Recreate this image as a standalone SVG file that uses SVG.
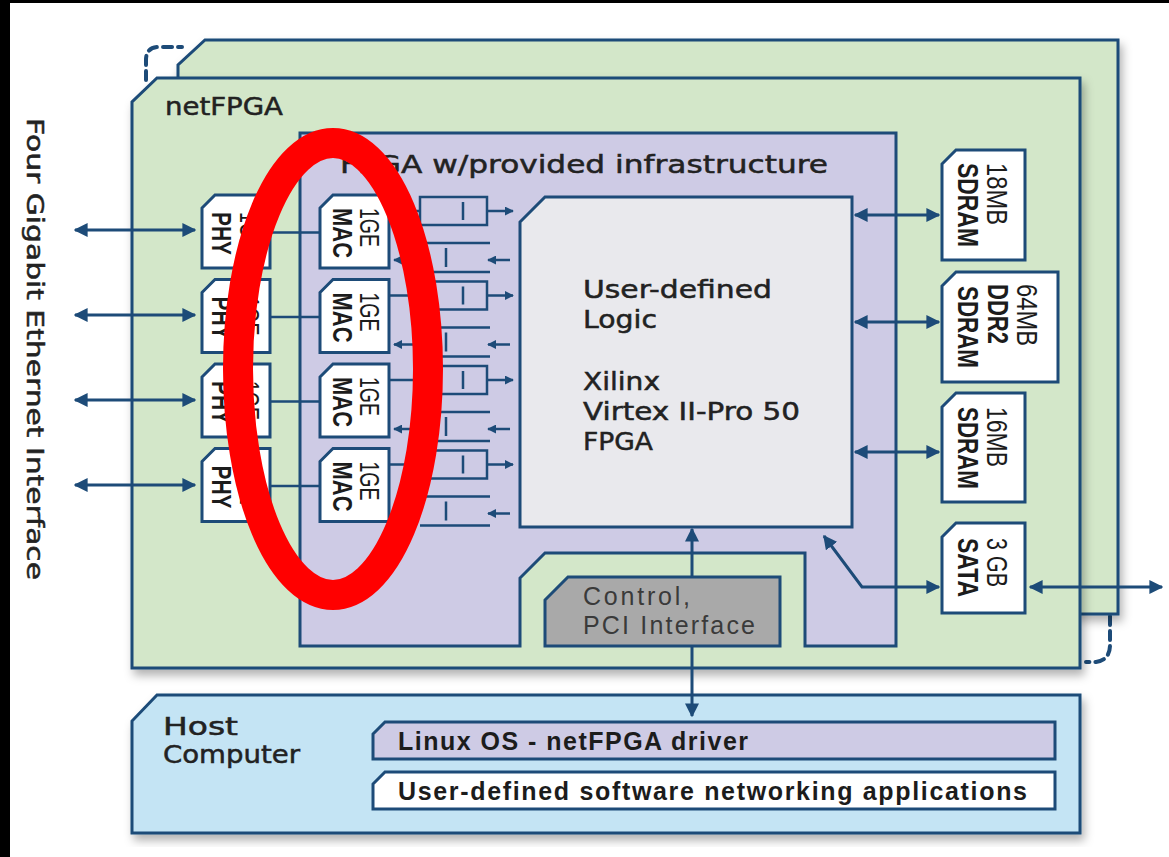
<svg xmlns="http://www.w3.org/2000/svg" width="1169" height="857" viewBox="0 0 1169 857">
<style>
.bd{stroke:#1d4b78;stroke-width:3;stroke-linejoin:miter}
.green{fill:#d3e7c9}
.purple{fill:#cecbe5}
.white{fill:#ffffff}
.logic{fill:#e9e9ed}
.grey{fill:#a9a9a9}
.blue{fill:#c4e4f4}
.ln{stroke:#1d4b78;stroke-width:3;fill:none}
.thin{stroke:#1d4b78;stroke-width:2.5;fill:none}
.eu{font-family:"DejaVu Sans",sans-serif;fill:#222;stroke:#222;stroke-width:0.5}
.ar{font-family:"Liberation Sans",Arial,sans-serif;fill:#1c1c1c}
.b{font-weight:bold}
.dash{stroke:#1d4b78;stroke-width:4;fill:none;stroke-dasharray:9 6;stroke-linecap:round}
</style>
<defs>
<marker id="ah" viewBox="0 0 10 10" refX="9" refY="5" markerWidth="14" markerHeight="14" markerUnits="userSpaceOnUse" orient="auto-start-reverse"><path d="M0,0 L10,5 L0,10 z" fill="#1d4b78"/></marker>
<marker id="as" viewBox="0 0 10 10" refX="9" refY="5" markerWidth="9" markerHeight="9" markerUnits="userSpaceOnUse" orient="auto-start-reverse"><path d="M0,0 L10,5 L0,10 z" fill="#1d4b78"/></marker>
<filter id="sh" x="-5%" y="-5%" width="112%" height="115%"><feDropShadow dx="3" dy="6" stdDeviation="5" flood-color="#000" flood-opacity="0.3"/></filter>
</defs>
<rect x="0" y="0" width="1169" height="857" fill="#ffffff"/>
<rect x="0" y="0" width="10" height="857" fill="#000"/>
<rect x="0" y="0" width="1169" height="3" fill="#000"/>

<g id="ethernet-label"><text class="eu" font-size="23" transform="translate(27,118) rotate(90)" textLength="462" lengthAdjust="spacingAndGlyphs">Four Gigabit Ethernet Interface</text></g>

<g id="stack-dashes">
<path class="dash" d="M146,80 V60 Q146,47 159,47 H182"/>
<path class="dash" d="M1110,616 V645 Q1110,660 1096,662 H1086"/>
</g>

<g id="back-board"><path class="bd green" filter="url(#sh)" d="M178,78 V65 L205,40 H1118 V614 H1080 Z"/></g>

<g id="netfpga">
<path class="bd green" filter="url(#sh)" d="M132,668 V102 L157,78 H1080 V668 Z"/>
<text class="eu" x="165" y="115" font-size="24" textLength="118" lengthAdjust="spacingAndGlyphs">netFPGA</text>
</g>

<g id="fpga-infrastructure">
<path class="bd purple" d="M300,133 H896 V646 H805 V553 H545 L520,578 V646 H300 Z"/>
<text class="eu" x="340" y="173" font-size="25" textLength="488" lengthAdjust="spacingAndGlyphs">FPGA w/provided infrastructure</text>
</g>

<g id="user-logic">
<path class="bd logic" d="M520,222 L545,197 H852 V527 H520 Z"/>
<text class="eu" font-size="25">
<tspan x="583" y="298" textLength="189" lengthAdjust="spacingAndGlyphs">User-defined</tspan>
<tspan x="583" y="328" textLength="74" lengthAdjust="spacingAndGlyphs">Logic</tspan>
<tspan x="583" y="390" textLength="77" lengthAdjust="spacingAndGlyphs">Xilinx</tspan>
<tspan x="583" y="420" textLength="217" lengthAdjust="spacingAndGlyphs">Virtex II-Pro 50</tspan>
<tspan x="583" y="450" textLength="70" lengthAdjust="spacingAndGlyphs">FPGA</tspan>
</text>
</g>

<g id="phy-1"><path class="bd white" d="M202,208 L215,195 H270 V268 H202 Z"/>
<text class="ar b" font-size="28" transform="translate(212,212) rotate(90)" textLength="43" lengthAdjust="spacingAndGlyphs">PHY</text>
<text class="ar" font-size="28" transform="translate(240,212) rotate(90)" textLength="39" lengthAdjust="spacingAndGlyphs">1GE</text></g>
<g id="phy-2" transform="translate(0,84.5)"><path class="bd white" d="M202,208 L215,195 H270 V268 H202 Z"/>
<text class="ar b" font-size="28" transform="translate(212,212) rotate(90)" textLength="43" lengthAdjust="spacingAndGlyphs">PHY</text>
<text class="ar" font-size="28" transform="translate(240,212) rotate(90)" textLength="39" lengthAdjust="spacingAndGlyphs">1GE</text></g>
<g id="phy-3" transform="translate(0,169)"><path class="bd white" d="M202,208 L215,195 H270 V268 H202 Z"/>
<text class="ar b" font-size="28" transform="translate(212,212) rotate(90)" textLength="43" lengthAdjust="spacingAndGlyphs">PHY</text>
<text class="ar" font-size="28" transform="translate(240,212) rotate(90)" textLength="39" lengthAdjust="spacingAndGlyphs">1GE</text></g>
<g id="phy-4" transform="translate(0,253.5)"><path class="bd white" d="M202,208 L215,195 H270 V268 H202 Z"/>
<text class="ar b" font-size="28" transform="translate(212,212) rotate(90)" textLength="43" lengthAdjust="spacingAndGlyphs">PHY</text>
<text class="ar" font-size="28" transform="translate(240,212) rotate(90)" textLength="39" lengthAdjust="spacingAndGlyphs">1GE</text></g>

<g id="mac-1"><path class="bd white" d="M320,208 L333,195 H389 V268 H320 Z"/>
<text class="ar b" font-size="28" transform="translate(333,208) rotate(90)" textLength="50" lengthAdjust="spacingAndGlyphs">MAC</text>
<text class="ar" font-size="28" transform="translate(360,208) rotate(90)" textLength="39" lengthAdjust="spacingAndGlyphs">1GE</text></g>
<g id="mac-2" transform="translate(0,84.5)"><path class="bd white" d="M320,208 L333,195 H389 V268 H320 Z"/>
<text class="ar b" font-size="28" transform="translate(333,208) rotate(90)" textLength="50" lengthAdjust="spacingAndGlyphs">MAC</text>
<text class="ar" font-size="28" transform="translate(360,208) rotate(90)" textLength="39" lengthAdjust="spacingAndGlyphs">1GE</text></g>
<g id="mac-3" transform="translate(0,169)"><path class="bd white" d="M320,208 L333,195 H389 V268 H320 Z"/>
<text class="ar b" font-size="28" transform="translate(333,208) rotate(90)" textLength="50" lengthAdjust="spacingAndGlyphs">MAC</text>
<text class="ar" font-size="28" transform="translate(360,208) rotate(90)" textLength="39" lengthAdjust="spacingAndGlyphs">1GE</text></g>
<g id="mac-4" transform="translate(0,253.5)"><path class="bd white" d="M320,208 L333,195 H389 V268 H320 Z"/>
<text class="ar b" font-size="28" transform="translate(333,208) rotate(90)" textLength="50" lengthAdjust="spacingAndGlyphs">MAC</text>
<text class="ar" font-size="28" transform="translate(360,208) rotate(90)" textLength="39" lengthAdjust="spacingAndGlyphs">1GE</text></g>

<g id="queues-1"><rect class="thin" x="420" y="197" width="67" height="28"/><path class="thin" d="M463,202 V220 M420,243 H490 M420,272 H490 M446,248 V267"/></g>
<g id="queues-2" transform="translate(0,84.5)"><rect class="thin" x="420" y="197" width="67" height="28"/><path class="thin" d="M463,202 V220 M420,243 H490 M420,272 H490 M446,248 V267"/></g>
<g id="queues-3" transform="translate(0,169)"><rect class="thin" x="420" y="197" width="67" height="28"/><path class="thin" d="M463,202 V220 M420,243 H490 M420,272 H490 M446,248 V267"/></g>
<g id="queues-4" transform="translate(0,253.5)"><rect class="thin" x="420" y="197" width="67" height="28"/><path class="thin" d="M463,202 V220 M420,243 H490 M420,272 H490 M446,248 V267"/></g>

<g id="mem-18mb"><path class="bd white" d="M942,164 L956,150 H1025 V260 H942 Z"/>
<text class="ar b" font-size="29" transform="translate(958,163) rotate(90)" textLength="84" lengthAdjust="spacingAndGlyphs">SDRAM</text>
<text class="ar" font-size="29" transform="translate(987,163) rotate(90)" textLength="62" lengthAdjust="spacingAndGlyphs">18MB</text></g>
<g id="mem-64mb"><path class="bd white" d="M942,286 L956,272 H1058 V382 H942 Z"/>
<text class="ar b" font-size="29" transform="translate(958,286) rotate(90)" textLength="82" lengthAdjust="spacingAndGlyphs">SDRAM</text>
<text class="ar b" font-size="29" transform="translate(988,284) rotate(90)" textLength="60" lengthAdjust="spacingAndGlyphs">DDR2</text>
<text class="ar" font-size="29" transform="translate(1017,284) rotate(90)" textLength="62" lengthAdjust="spacingAndGlyphs">64MB</text></g>
<g id="mem-16mb"><path class="bd white" d="M942,407 L956,393 H1025 V502 H942 Z"/>
<text class="ar b" font-size="29" transform="translate(958,407) rotate(90)" textLength="82" lengthAdjust="spacingAndGlyphs">SDRAM</text>
<text class="ar" font-size="29" transform="translate(987,407) rotate(90)" textLength="60" lengthAdjust="spacingAndGlyphs">16MB</text></g>
<g id="sata"><path class="bd white" d="M942,537 L956,523 H1025 V613 H942 Z"/>
<text class="ar b" font-size="29" transform="translate(958,538) rotate(90)" textLength="59" lengthAdjust="spacingAndGlyphs">SATA</text>
<text class="ar" font-size="29" transform="translate(987,538) rotate(90)" textLength="49" lengthAdjust="spacingAndGlyphs">3 GB</text></g>

<g id="host-computer">
<path class="bd blue" filter="url(#sh)" d="M132,833 V721 L157,695 H1080 V833 Z"/>
<text class="eu" font-size="25"><tspan x="163" y="735" textLength="75" lengthAdjust="spacingAndGlyphs">Host</tspan><tspan x="163" y="763" textLength="137" lengthAdjust="spacingAndGlyphs">Computer</tspan></text>
</g>
<g id="linux-driver"><path class="bd purple" d="M373,734 L385,722 H1055 V759 H373 Z"/>
<text class="ar b" x="398" y="750" font-size="25" textLength="350" lengthAdjust="spacing">Linux OS - netFPGA driver</text></g>
<g id="user-apps"><path class="bd white" d="M373,784 L385,772 H1055 V809 H373 Z"/>
<text class="ar b" x="398" y="800" font-size="25" textLength="629" lengthAdjust="spacing">User-defined software networking applications</text></g>

<g id="connectors">
<line class="ln" x1="75" y1="230" x2="195" y2="230" marker-start="url(#ah)" marker-end="url(#ah)"/>
<line class="ln" x1="75" y1="315" x2="195" y2="315" marker-start="url(#ah)" marker-end="url(#ah)"/>
<line class="ln" x1="75" y1="400" x2="195" y2="400" marker-start="url(#ah)" marker-end="url(#ah)"/>
<line class="ln" x1="75" y1="485" x2="195" y2="485" marker-start="url(#ah)" marker-end="url(#ah)"/>
<g id="port-links">
<path class="thin" d="M270,232.5 H320 M389,211 H420"/>
<path class="thin" d="M487,211 H513" marker-end="url(#as)"/>
<path class="thin" d="M510,260 H488" marker-end="url(#as)"/>
<path class="thin" d="M420,260 H394" marker-end="url(#as)"/>
</g>
<g transform="translate(0,84.5)"><path class="thin" d="M270,232.5 H320 M389,211 H420"/><path class="thin" d="M487,211 H513" marker-end="url(#as)"/><path class="thin" d="M510,260 H488" marker-end="url(#as)"/><path class="thin" d="M420,260 H394" marker-end="url(#as)"/></g>
<g transform="translate(0,169)"><path class="thin" d="M270,232.5 H320 M389,211 H420"/><path class="thin" d="M487,211 H513" marker-end="url(#as)"/><path class="thin" d="M510,260 H488" marker-end="url(#as)"/><path class="thin" d="M420,260 H394" marker-end="url(#as)"/></g>
<g transform="translate(0,253.5)"><path class="thin" d="M270,232.5 H320 M389,211 H420"/><path class="thin" d="M487,211 H513" marker-end="url(#as)"/><path class="thin" d="M510,260 H488" marker-end="url(#as)"/><path class="thin" d="M420,260 H394" marker-end="url(#as)"/></g>
<line class="ln" x1="855" y1="215" x2="939" y2="215" marker-start="url(#ah)" marker-end="url(#ah)"/>
<line class="ln" x1="855" y1="322" x2="939" y2="322" marker-start="url(#ah)" marker-end="url(#ah)"/>
<line class="ln" x1="855" y1="452" x2="939" y2="452" marker-start="url(#ah)" marker-end="url(#ah)"/>
<polyline class="ln" points="824,536 862,587 939,587" marker-start="url(#ah)" marker-end="url(#ah)"/>
<line class="ln" x1="1030" y1="587" x2="1162" y2="587" marker-start="url(#ah)" marker-end="url(#ah)"/>
<line class="ln" x1="692" y1="577" x2="692" y2="529" marker-end="url(#ah)"/>
<line class="ln" x1="692" y1="646" x2="692" y2="716" marker-end="url(#ah)"/>
</g>

<g id="control-pci">
<path class="bd grey" d="M545,600 L568,577 H780 V646 H545 Z"/>
<text class="ar" font-size="25" style="fill:#3a3a3a"><tspan x="583" y="605" textLength="107" lengthAdjust="spacing">Control,</tspan><tspan x="583" y="634" textLength="172" lengthAdjust="spacing">PCI Interface</tspan></text>
</g>

<g id="annotation"><ellipse cx="333" cy="369" rx="95" ry="226" fill="none" stroke="#ff0000" stroke-width="30"/></g>
</svg>
